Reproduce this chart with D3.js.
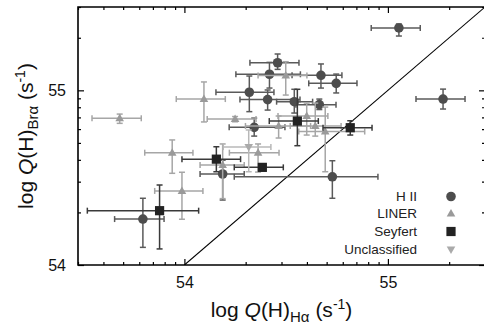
<!DOCTYPE html>
<html><head><meta charset="utf-8">
<script src="https://cdn.jsdelivr.net/npm/d3@7"></script>
<style>
html,body{margin:0;padding:0;background:#fff;overflow:hidden;}
svg{display:block;font-family:"Liberation Sans",Arial,Helvetica,sans-serif;}
</style></head>
<body>
<svg id="c" width="484" height="329"></svg>
<script>
// rows: [x, y, xLow, xHigh, yLow, yHigh]  (log Q(H) values)
const hii = [
  [55.054, 55.357, 54.918, 55.159, 55.311, 55.380],
  [55.271, 54.950, 55.138, 55.379, 54.893, 55.007],
  [54.458, 55.158, 54.322, 54.563, 55.120, 55.208],
  [54.418, 55.092, 54.253, 54.570, 55.013, 55.160],
  [54.671, 55.086, 54.529, 54.774, 55.013, 55.151],
  [54.746, 55.040, 54.611, 54.848, 54.985, 55.093],
  [54.319, 54.989, 54.155, 54.440, 54.878, 55.082],
  [54.409, 54.947, 54.273, 54.568, 54.887, 55.002],
  [54.540, 54.935, 54.453, 54.630, 54.870, 55.006],
  [54.663, 54.918, 54.548, 54.745, 54.890, 54.950],
  [54.343, 54.788, 54.220, 54.494, 54.738, 54.841],
  [54.188, 54.521, 54.077, 54.294, 54.372, 54.600],
  [54.727, 54.505, 54.245, 54.951, 54.382, 54.597],
  [53.796, 54.263, 53.657, 53.900, 54.101, 54.382]
];
const liner = [
  [53.682, 54.840, 53.546, 53.788, 54.811, 54.864],
  [54.096, 54.950, 53.960, 54.201, 54.819, 55.048],
  [54.498, 55.085, 54.362, 54.602, 54.973, 55.164],
  [54.249, 54.836, 54.112, 54.352, 54.820, 54.850],
  [54.463, 54.796, 54.300, 54.620, 54.727, 54.853],
  [54.601, 54.853, 54.460, 54.705, 54.744, 54.927],
  [54.643, 54.796, 54.520, 54.770, 54.738, 54.927],
  [54.692, 54.764, 54.562, 54.886, 54.534, 54.904],
  [54.362, 54.643, 54.221, 54.465, 54.532, 54.693],
  [54.188, 54.572, 54.077, 54.294, 54.380, 54.693],
  [53.940, 54.643, 53.805, 54.042, 54.525, 54.716],
  [53.988, 54.424, 53.854, 54.091, 54.262, 54.531]
];
const seyfert = [
  [54.555, 54.824, 54.417, 54.658, 54.683, 55.006],
  [54.815, 54.786, 54.681, 54.922, 54.744, 54.826],
  [54.157, 54.606, 53.988, 54.276, 54.534, 54.677],
  [54.383, 54.559, 54.245, 54.486, 54.549, 54.569],
  [53.878, 54.311, 53.523, 54.070, 54.092, 54.458]
];
const unclassified = [
  [54.316, 54.675, 54.191, 54.425, 54.534, 54.773]
];
const classNames = ["H II", "LINER", "Seyfert", "Unclassified"];
const xMajorTicks = [54, 55];
const yMajorTicks = [54, 55];
const xTitle = "log Q(H)Hα (s-1)";
const yTitle = "log Q(H)Brα (s-1)";

const L = 78, R = 485, T = 7, B = 265;
const xDom = [Math.log10(3e53), Math.log10(3e55)];
const yDom = [54, Math.log10(3e55)];
const x = d3.scaleLinear().domain(xDom).range([L, R]);
const y = d3.scaleLinear().domain(yDom).range([B, T]);

const svg = d3.select("#c");

// minor (log) ticks
function minorTicks(dom) {
  const out = [];
  for (let e = 53; e <= 55; e++) for (let k = 2; k <= 9; k++) {
    const v = e + Math.log10(k);
    if (v >= dom[0] - 1e-9 && v <= dom[1] + 1e-9) out.push(v);
  }
  return out;
}
const xMinor = minorTicks(xDom), yMinor = minorTicks(yDom);

svg.append("defs").append("clipPath").attr("id", "clip")
  .append("rect").attr("x", L).attr("y", T).attr("width", R - L).attr("height", B - T);

// 1:1 line
svg.append("line").attr("clip-path", "url(#clip)")
  .attr("x1", x(54)).attr("y1", y(54)).attr("x2", x(56)).attr("y2", y(56))
  .attr("stroke", "#000").attr("stroke-width", 1.1);

function styleAxis(g) {
  g.select(".domain").remove();
  g.selectAll("line").attr("stroke", "#000").attr("stroke-width", 1.2);
  g.selectAll("text").attr("font-size", 16).attr("fill", "#111")
    .attr("font-family", "Liberation Sans, Arial, sans-serif");
}
// bottom
svg.append("g").attr("transform", `translate(0,${B})`)
  .call(d3.axisBottom(x).tickValues(xMinor).tickSize(-3).tickFormat("")).call(styleAxis);
svg.append("g").attr("transform", `translate(0,${B})`)
  .call(d3.axisBottom(x).tickValues(xMajorTicks).tickSize(-6).tickPadding(12).tickFormat(d3.format("d"))).call(styleAxis);
// top
svg.append("g").attr("transform", `translate(0,${T})`)
  .call(d3.axisTop(x).tickValues(xMinor).tickSize(-3).tickFormat("")).call(styleAxis);
svg.append("g").attr("transform", `translate(0,${T})`)
  .call(d3.axisTop(x).tickValues(xMajorTicks).tickSize(-6).tickFormat("")).call(styleAxis);
// left
svg.append("g").attr("transform", `translate(${L},0)`)
  .call(d3.axisLeft(y).tickValues(yMinor).tickSize(-3).tickFormat("")).call(styleAxis);
svg.append("g").attr("transform", `translate(${L},0)`)
  .call(d3.axisLeft(y).tickValues(yMajorTicks).tickSize(-6).tickPadding(12).tickFormat(d3.format("d"))).call(styleAxis);
// right (ticks only; frame line lies just outside the picture)
svg.append("g").attr("transform", `translate(${R},0)`)
  .call(d3.axisRight(y).tickValues(yMinor).tickSize(-3).tickFormat("")).call(styleAxis);
svg.append("g").attr("transform", `translate(${R},0)`)
  .call(d3.axisRight(y).tickValues(yMajorTicks).tickSize(-6).tickFormat("")).call(styleAxis);

// frame: left, top, bottom
svg.append("path")
  .attr("d", `M${R + 2},${T}H${L}V${B}H${R + 2}`)
  .attr("fill", "none").attr("stroke", "#000").attr("stroke-width", 1.6);

const series = [
  {data: hii, bar: "#5a5a5a", fill: "#4d4d4d", shape: "circle"},
  {data: liner, bar: "#a6a6a6", fill: "#9a9a9a", shape: "tri"},
  {data: seyfert, bar: "#3a3a3a", fill: "#222", shape: "square"},
  {data: unclassified, bar: "#b8b8b8", fill: "#aaaaaa", shape: "tridown"}
];
const cap = 3;
function drawMarker(g, shape, cx, cy, fill) {
  if (shape === "circle") {
    g.append("circle").attr("cx", cx).attr("cy", cy).attr("r", 4.8).attr("fill", fill);
  } else if (shape === "square") {
    g.append("rect").attr("x", cx - 4.6).attr("y", cy - 4.6).attr("width", 9.2).attr("height", 9.2).attr("fill", fill);
  } else if (shape === "tri") {
    g.append("path").attr("d", `M${cx},${cy - 4.5}L${cx + 4.3},${cy + 3}L${cx - 4.3},${cy + 3}Z`).attr("fill", fill);
  } else {
    g.append("path").attr("d", `M${cx},${cy + 4.5}L${cx + 4.3},${cy - 3}L${cx - 4.3},${cy - 3}Z`).attr("fill", fill);
  }
}
const plot = svg.append("g").attr("clip-path", "url(#clip)");
series.forEach(s => {
  const g = plot.append("g");
  s.data.forEach(d => {
    const cx = x(d[0]), cy = y(d[1]);
    const x0 = x(d[2]), x1 = x(d[3]), y0 = y(d[4]), y1 = y(d[5]);
    const bg = g.append("g").attr("stroke", s.bar).attr("stroke-width", 1.5).attr("fill", "none");
    bg.append("line").attr("x1", x0).attr("x2", x1).attr("y1", cy).attr("y2", cy);
    bg.append("line").attr("x1", x0).attr("x2", x0).attr("y1", cy - cap).attr("y2", cy + cap);
    bg.append("line").attr("x1", x1).attr("x2", x1).attr("y1", cy - cap).attr("y2", cy + cap);
    bg.append("line").attr("x1", cx).attr("x2", cx).attr("y1", y0).attr("y2", y1);
    bg.append("line").attr("x1", cx - cap).attr("x2", cx + cap).attr("y1", y0).attr("y2", y0);
    bg.append("line").attr("x1", cx - cap).attr("x2", cx + cap).attr("y1", y1).attr("y2", y1);
  });
  s.data.forEach(d => drawMarker(g, s.shape, x(d[0]), y(d[1]), s.fill));
});

// legend
const legY = [199, 216, 234, 252];
classNames.forEach((n, i) => {
  svg.append("text").attr("x", 417).attr("y", legY[i] + 2).attr("text-anchor", "end")
    .attr("font-size", 13.5).attr("fill", "#222").text(n);
  drawMarker(svg, series[i].shape, 451, legY[i] - 2.5, series[i].fill);
});

// axis titles
function title(sel, sub) {
  const t = sel.append("text").attr("font-size", 21).attr("fill", "#111").attr("text-anchor", "middle");
  t.append("tspan").text("log ");
  t.append("tspan").attr("font-style", "italic").text("Q");
  t.append("tspan").text("(H)");
  t.append("tspan").attr("font-size", 15).attr("dy", 5).text(sub);
  t.append("tspan").attr("dy", -5).text(" (s");
  t.append("tspan").attr("font-size", 14).attr("dy", -8).text("-1");
  t.append("tspan").attr("dy", 8).text(")");
  return t;
}
title(svg, "Hα").attr("x", (L + R) / 2).attr("y", 317);
title(svg, "Brα").attr("transform", `translate(33,${(T + B) / 2}) rotate(-90)`);
</script>
</body></html>
